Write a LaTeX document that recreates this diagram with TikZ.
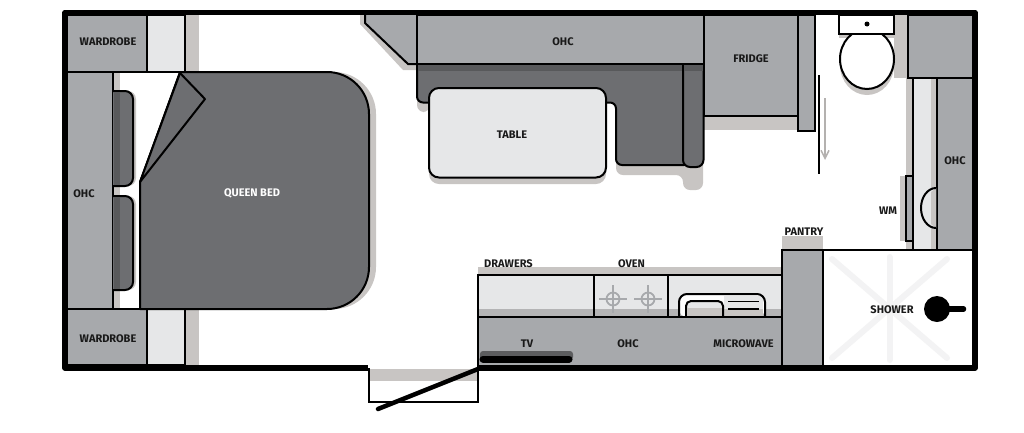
\documentclass[tikz,border=0pt]{standalone}
\usepackage{fontspec}
\setmainfont{Fira Sans}
\usetikzlibrary{arrows.meta}
\definecolor{ohcgrey}{HTML}{A7A9AC}
\definecolor{bedgrey}{HTML}{6D6E71}
\definecolor{darkgrey}{HTML}{58595B}
\definecolor{lightgrey}{HTML}{E6E7E8}
\definecolor{shadowgrey}{HTML}{C8C5C3}
\definecolor{stargrey}{HTML}{F3F3F4}
\newcommand{\bedoutline}{(140,182) -- (180,72) -- (327,72) .. controls (350.2,72) and (369,90.8) .. (369,114) -- (369,267) .. controls (369,290.2) and (350.2,309) .. (327,309) -- (140,309) -- cycle}
\begin{document}
\begin{tikzpicture}[x=1pt,y=-1pt]
    \tikzset{
        unit/.style={draw=black, line width=2pt, fill=ohcgrey},
        pale/.style={draw=black, line width=2pt, fill=lightgrey},
        soft/.style={draw=black, line width=2pt, fill=bedgrey},
        shade/.style={fill=shadowgrey},
        spoke/.style={stargrey, line width=6pt, line cap=round},
        lbl/.style={font=\bfseries\fontsize{11}{13}\selectfont, inner sep=0pt, text=black!90}
    }
    \useasboundingbox (0,0) rectangle (1024,432);
    % shadows
    \fill[shade] (185,15) rectangle (199,72);
    \fill[shade] (185,309) rectangle (199,365);
    \fill[shade] (113,72) rectangle (120,309);
    \fill[shade] (369,369) rectangle (478,381);
    \fill[shade] (360,15) -- (360,24) -- (403,70) -- (420,70) -- (420,15) -- cycle;
    \fill[shade, rounded corners=7pt] (417,80) -- (417,112) -- (430,112) -- (430,90) -- cycle;
    \fill[shade, rounded corners=7pt] (616,120) -- (616,175) -- (683,175) -- (683,190) -- (703,190) -- (703,120) -- cycle;
    \fill[shade] (704,116) rectangle (798,130);
    \fill[shade] (894,15) rectangle (908,78);
    \fill[shade] (906,78) rectangle (913,250);
    \fill[shade] (900,176) rectangle (906,241);
    \fill[shade] (782,236) rectangle (823,250);
    \fill[shade] (478,267) rectangle (782,275);
    \fill[shade, xshift=7pt] \bedoutline;
    \fill[shade, rounded corners=8pt] (120,91) -- (136,91) -- (136,186) -- (120,186) -- cycle;
    \fill[shade, rounded corners=8pt] (120,196) -- (136,196) -- (136,290) -- (120,290) -- cycle;
    \fill[shade] (867,65) ellipse[x radius=27, y radius=30];
    \fill[shade] (839,34) rectangle (894,38);
    % wardrobes, left side
    \draw[unit] (67,15) rectangle (147,72);
    \draw[unit] (67,309) rectangle (147,365);
    \draw[pale] (147,15) rectangle (185,72);
    \draw[pale] (147,309) rectangle (185,365);
    \draw[unit] (67,72) rectangle (113,309);
    % pillows
    \foreach \a/\b in {91/186,196/290}{
        \draw[soft, rounded corners=8pt] (113,\a) -- (133,\a) -- (133,\b) -- (113,\b);
        \fill[darkgrey] (114,\a+1) rectangle (120,\b-1);
    }
    % bed
    \draw[soft, line join=round] \bedoutline;
    \draw[soft, line join=round] (180,73) -- (205,99) -- (140,182) -- cycle;
    % dinette
    \fill[shade, rounded corners=10pt] (429,94) rectangle (606,184);
    \draw[unit] (365,15) -- (365,23) -- (408,64) -- (417,64) -- (417,15);
    \draw[soft, rounded corners=6pt] (417,64) -- (417,102.5) -- (616,102.5) -- (616,165) -- (690,165) -- (690,64);
    \fill[darkgrey] (418,64) rectangle (703,71);
    \draw[soft, rounded corners=7pt] (683,64) -- (683,167) -- (703.5,167) -- (703.5,64);
    \fill[darkgrey] (684,64) rectangle (702.5,71);
    \draw[unit] (417,15) rectangle (703.5,63.5);
    \draw[pale, rounded corners=10pt] (429,88) rectangle (606,177.5);
    % fridge and panel
    \draw[unit] (703.5,15) rectangle (798,116);
    \draw[unit] (798,15) rectangle (815,130.5);
    % toilet
    \draw[draw=black, fill=white, line width=2pt] (867,59) ellipse[x radius=27, y radius=30];
    \draw[draw=black, fill=white, line width=2pt] (839,15) rectangle (894,34);
    \fill[black] (867,24) circle[radius=2.5];
    \draw[unit] (908,15) rectangle (973,78);
    % sliding door
    \draw[black, line width=2pt] (819,75) -- (819,174);
    \coordinate (slidefrom) at (825,98);
    \coordinate (slideto) at (825,160);
    \draw[shadowgrey!90!black, line width=1.5pt, -{Straight Barb[length=8pt,width=8pt]}] (slidefrom) -- (slideto);
    % ensuite cupboards
    \draw[pale] (913,78) rectangle (936.5,250);
    \fill[shade] (931,79) rectangle (935.5,249);
    \draw[unit] (936.5,78) rectangle (973,250);
    \draw[unit] (906,176) rectangle (912.5,241);
    \fill[lightgrey] (936,188) arc[start angle=270, end angle=90, x radius=15, y radius=20] -- cycle;
    \fill[shade] (936,188) -- (936,228) -- (931,224) -- (931,192) -- cycle;
    \draw[black, line width=2pt] (936,188) arc[start angle=270, end angle=90, x radius=15, y radius=20];
    % kitchen
    \draw[pale] (478,275) rectangle (782,317);
    \fill[ohcgrey!60!shadowgrey] (479,309) rectangle (781,316);
    \foreach \a in {594,668}{
        \draw[black, line width=2pt] (\a,274) -- (\a,317);
    }
    \foreach \a in {613,648}{
        \draw[ohcgrey, line width=1.8pt] (\a,299) circle[radius=6.5];
        \draw[ohcgrey, line width=1.8pt] (\a-14,299) -- (\a+14,299);
        \draw[ohcgrey, line width=1.8pt] (\a,285) -- (\a,313);
    }
    % microwave
    \fill[white, rounded corners=8pt] (679,317) -- (679,294) -- (765,294) -- (765,317) -- cycle;
    \fill[lightgrey] (724,296) rectangle (763,309);
    \fill[shadowgrey] (724,309) rectangle (763,317);
    \draw[black, line width=2pt, rounded corners=8pt] (679,317) -- (679,294) -- (765,294) -- (765,317);
    \draw[black, fill=lightgrey, line width=2pt, rounded corners=5pt] (686,317) -- (686,301) -- (723,301) -- (723,317);
    \fill[shadowgrey] (687,308) rectangle (722,316);
    \draw[black, line width=1.8pt] (728,301.5) -- (759,301.5);
    \draw[black, line width=1.8pt] (728,309) -- (759,309);
    \draw[unit] (478,317) rectangle (782,366);
    \fill[ohcgrey!55!black, rounded corners=3pt] (480,351) rectangle (573,360);
    \draw[black, line width=7pt, line cap=round] (483,359) -- (569,359);
    % shower
    \draw[unit] (782,250) rectangle (823,366);
    \draw[draw=black, fill=white, line width=2pt] (823,250) rectangle (973,366);
    \draw[spoke] (889.5,257) -- (889.5,360);
    \draw[spoke] (832,259) -- (947,358);
    \draw[spoke] (947,259) -- (832,358);
    \fill[black] (937,309) circle[radius=13];
    \draw[black, line width=5.5pt, line cap=round] (937,309) -- (963.5,309);
    % recess and door
    \draw[black, line width=1.5pt] (369,368) -- (369,402) -- (478,402) -- (478,368);
    \draw[black, line width=5.5pt, line join=round] (368,368) -- (65,368) -- (65,12.5) -- (975,12.5) -- (975,368) -- (478,368);
    \coordinate (doorhinge) at (478,369);
    \coordinate (doorend) at (378,409);
    \draw[black, line width=4.5pt, line cap=round] (doorhinge) -- (doorend);
    % labels
    \draw node[lbl] (wardrobea) at (108,41.5) {WARDROBE};
    \draw node[lbl] (wardrobeb) at (108,338.5) {WARDROBE};
    \draw node[lbl] (ohca) at (84,193.5) {OHC};
    \draw node[lbl, text=white] (bed) at (252,193.5) {QUEEN BED};
    \draw node[lbl] (ohcb) at (563,41.5) {OHC};
    \draw node[lbl] (table) at (512,134.5) {TABLE};
    \draw node[lbl] (fridge) at (751,58.5) {FRIDGE};
    \draw node[lbl] (ohcc) at (955,160.5) {OHC};
    \draw node[lbl] (wm) at (888,210.5) {WM};
    \draw node[lbl] (pantry) at (804,231.5) {PANTRY};
    \draw node[lbl] (shower) at (892,309.5) {SHOWER};
    \draw node[lbl] (drawers) at (508.5,263.5) {DRAWERS};
    \draw node[lbl] (oven) at (631.5,263.5) {OVEN};
    \draw node[lbl] (tv) at (527,343.5) {TV};
    \draw node[lbl] (ohcd) at (628,343.5) {OHC};
    \draw node[lbl] (microwave) at (743.5,343.5) {MICROWAVE};
\end{tikzpicture}
\end{document}
